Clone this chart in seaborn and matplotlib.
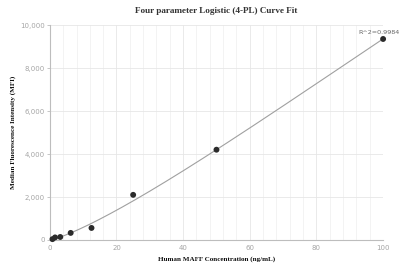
import numpy as np
import pandas as pd
import matplotlib
matplotlib.use("Agg")
import matplotlib.pyplot as plt
import seaborn as sns
from matplotlib.ticker import MultipleLocator, FuncFormatter

conc = [100, 50, 25, 12.5, 6.25, 3.125, 1.5625, 0.78125]
mfi = [9350, 4200, 2100, 560, 330, 140, 120, 40]
r2_label = "R^2=0.9984"
# 4PL parameters (A, B, C, D)
p_A, p_B, p_C, p_D = 0.0, 1.25, 531.0, 84770.0

sns.set_theme(style="white")
plt.rcParams['font.family'] = ['DejaVu Sans']

fig = plt.figure(figsize=(4.02, 2.71), dpi=100)
ax = fig.add_axes([0.124, 0.1144, 0.829, 0.7933])

xs = np.linspace(0, 100, 300)
ys = p_D + (p_A - p_D) / (1 + (xs / p_C) ** p_B)
curve = pd.DataFrame({"x": xs, "y": ys})
pts = pd.DataFrame({"x": conc, "y": mfi})

sns.lineplot(data=curve, x="x", y="y", ax=ax, color="#a0a0a0", linewidth=0.8, zorder=2)
sns.scatterplot(data=pts, x="x", y="y", ax=ax, color="#2b2b2b", s=18, edgecolor="none",
                zorder=3, clip_on=False)

ax.set_xlim(0, 100)
ax.set_ylim(0, 10000)
ax.xaxis.set_major_locator(MultipleLocator(20))
ax.xaxis.set_minor_locator(MultipleLocator(4))
ax.yaxis.set_major_locator(MultipleLocator(2000))
ax.yaxis.set_major_formatter(FuncFormatter(lambda v, p: f"{int(v):,}"))
ax.grid(True, which="major", color="#e6e6e6", linewidth=0.6)
ax.grid(True, which="minor", axis="x", color="#efefef", linewidth=0.5)

for s in ["top", "right"]:
    ax.spines[s].set_visible(False)
for s in ["left", "bottom"]:
    ax.spines[s].set_color("#bdbdbd")
    ax.spines[s].set_linewidth(0.8)

ax.tick_params(axis="both", which="major", labelsize=5, labelcolor="#a5a5a5",
               length=2, width=0.6, color="#bdbdbd", pad=1.5)
ax.tick_params(axis="both", which="minor", length=0)
ax.tick_params(axis="y", left=True)
ax.tick_params(axis="x", bottom=False)

ax.set_xlabel("Human MAFF Concentration (ng/mL)", fontsize=5.1, fontweight="bold",
              family="Liberation Serif", color="#111111", labelpad=4)
ax.set_ylabel("Median Fluorescence Intensity (MFI)", fontsize=5.1, fontweight="bold",
              family="Liberation Serif", color="#111111", labelpad=3)
fig.suptitle("Four parameter Logistic (4-PL) Curve Fit", x=0.537, y=0.975, fontsize=6.6,
             fontweight="bold", family="Liberation Serif", color="#333333")

ax.annotate(r2_label, xy=(conc[0], mfi[0]), xytext=(12, 3), textcoords="offset points",
            ha="right", va="bottom", fontsize=4.6, color="#666666", annotation_clip=False)

fig.savefig("out.png", dpi=100)
